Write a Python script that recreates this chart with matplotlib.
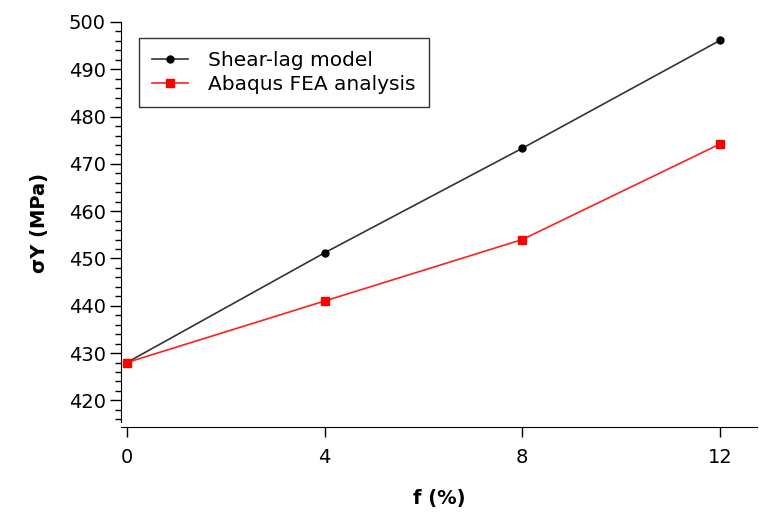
import matplotlib.pyplot as plt
from matplotlib.ticker import MultipleLocator

f_pct = [0, 4, 8, 12]
shear_lag = [428.0, 451.2, 473.3, 496.1]
abaqus_fea = [428.0, 441.0, 454.0, 474.2]

fig = plt.figure(figsize=(7.59, 5.15), dpi=100)
ax = fig.add_axes([121 / 759, 1 - 424 / 515, 636 / 759, 402 / 515])

ax.plot(f_pct, shear_lag, color="#333333", lw=1.2, marker="o", ms=5,
        mfc="black", mec="black", label="Shear-lag model")
ax.plot(f_pct, abaqus_fea, color="#ff2020", lw=1.2, marker="s", ms=6,
        mfc="red", mec="red", label="Abaqus FEA analysis")

ax.set_xlim(-0.12, 12.75)
ax.set_ylim(415.0, 500)
ax.set_xticks(f_pct)
ax.yaxis.set_major_locator(MultipleLocator(10))
ax.yaxis.set_minor_locator(MultipleLocator(2))

for s in ["top", "right"]:
    ax.spines[s].set_visible(False)
ax.spines["left"].set_bounds(415.4, 500)
ax.spines["bottom"].set_position(("outward", 2))

ax.tick_params(axis="y", which="major", length=8, width=1, labelsize=14, pad=3)
ax.tick_params(axis="y", which="minor", length=4, width=1)
ax.tick_params(axis="x", length=7, width=1, labelsize=14, pad=8)

ax.set_xlabel("f (%)", fontsize=14, fontweight="bold", labelpad=16)
ax.set_ylabel("σY (MPa)", fontsize=14, fontweight="bold", labelpad=14)

leg = ax.legend(loc="upper left", bbox_to_anchor=(0.012, 0.985), fontsize=14.5,
                fancybox=False, edgecolor="#333333", framealpha=1,
                handlelength=1.8, handletextpad=1.0, borderpad=0.65,
                labelspacing=0.25)
leg.get_frame().set_linewidth(1)

fig.savefig("out.png", dpi=100)
